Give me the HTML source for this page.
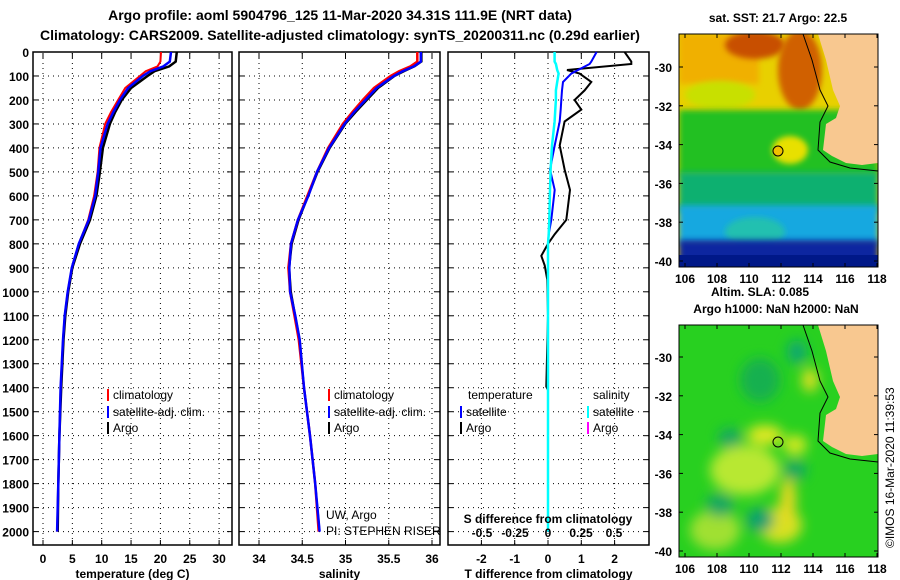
<!DOCTYPE html>
<html><head><meta charset="utf-8"><style>
body{margin:0;background:#fff;}
svg{display:block;font-family:"Liberation Sans",Arial,sans-serif;font-weight:bold;}
</style></head><body>
<svg id="c" width="900" height="580" viewBox="0 0 900 580">
<defs>
<filter id="bl" x="-50%" y="-50%" width="200%" height="200%"><feGaussianBlur stdDeviation="6"/></filter>
<filter id="bl2" x="-50%" y="-50%" width="200%" height="200%"><feGaussianBlur stdDeviation="3"/></filter>
<clipPath id="m1"><rect x="679" y="34" width="199" height="233"/></clipPath>
<clipPath id="m2"><rect x="679" y="325" width="199" height="232"/></clipPath>
</defs>
<text x="340" y="20" text-anchor="middle" font-size="14">Argo profile: aoml 5904796_125 11-Mar-2020 34.31S 111.9E (NRT data)</text>
<text x="340" y="40" text-anchor="middle" font-size="14">Climatology: CARS2009. Satellite-adjusted climatology: synTS_20200311.nc (0.29d earlier)</text>
<g id="plots"></g>
<!-- top map -->
<g clip-path="url(#m1)">
<rect x="679" y="34" width="199" height="233" fill="#e8d000"/>
<rect x="679" y="34" width="80" height="50" fill="#f0b000" filter="url(#bl2)"/>
<ellipse cx="755" cy="45" rx="30" ry="14" fill="#c85000" filter="url(#bl2)"/>
<ellipse cx="800" cy="70" rx="22" ry="40" fill="#d06000" filter="url(#bl2)"/>
<ellipse cx="720" cy="95" rx="35" ry="14" fill="#c8e000" filter="url(#bl2)"/>
<rect x="679" y="110" width="199" height="66" fill="#20c020" filter="url(#bl2)"/>
<ellipse cx="790" cy="150" rx="18" ry="14" fill="#e8e000" filter="url(#bl2)"/>
<rect x="679" y="172" width="199" height="40" fill="#10b070" filter="url(#bl2)"/>
<rect x="679" y="205" width="199" height="40" fill="#18a8e0" filter="url(#bl2)"/>
<ellipse cx="755" cy="232" rx="30" ry="15" fill="#20c0b0" filter="url(#bl2)"/>
<rect x="679" y="240" width="199" height="30" fill="#0828a0" filter="url(#bl2)"/>
<rect x="679" y="255" width="199" height="15" fill="#001888"/>
<polygon points="818,34 826,60 833,90 840,106 836,118 826,124 823,150 832,156 846,163 862,165 878,163 878,34" fill="#f8c890"/>
<polyline points="803,34 812,60 820,90 828,106 820,122 818,150 830,162 850,168 878,171" fill="none" stroke="#000" stroke-width="1"/>
<circle cx="778" cy="151" r="5" fill="#f0c000" stroke="#000"/>
</g>
<rect x="679" y="34" width="199" height="233" fill="none" stroke="#000"/>
<!-- bottom map -->
<g clip-path="url(#m2)">
<rect x="679" y="325" width="199" height="232" fill="#28d020"/>
<g filter="url(#bl)">
<ellipse cx="745" cy="470" rx="35" ry="25" fill="#b8e830"/>
<ellipse cx="765" cy="435" rx="18" ry="10" fill="#e0e820"/>
<ellipse cx="780" cy="525" rx="22" ry="18" fill="#d8e020"/>
<ellipse cx="788" cy="500" rx="8" ry="22" fill="#e8d820"/>
<ellipse cx="810" cy="380" rx="8" ry="12" fill="#e0e020"/>
<ellipse cx="715" cy="530" rx="25" ry="20" fill="#a0e030"/>
<ellipse cx="795" cy="445" rx="12" ry="10" fill="#d0e820"/>
<ellipse cx="797" cy="352" rx="10" ry="12" fill="#10a870"/>
<ellipse cx="760" cy="520" rx="14" ry="12" fill="#10a070"/>
<ellipse cx="720" cy="505" rx="14" ry="12" fill="#18a860"/>
<ellipse cx="730" cy="438" rx="12" ry="10" fill="#18a860"/>
<ellipse cx="795" cy="470" rx="12" ry="10" fill="#18a860"/>
<ellipse cx="760" cy="380" rx="20" ry="22" fill="#18b050"/>
</g>
<polygon points="818,325 826,351 833,381 840,397 836,409 826,415 823,441 832,447 846,454 862,456 878,454 878,325" fill="#f8c890"/>
<polyline points="803,325 812,351 820,381 828,397 820,413 818,441 830,453 850,459 878,462" fill="none" stroke="#000" stroke-width="1"/>
<circle cx="778" cy="442" r="5" fill="none" stroke="#000"/>
</g>
<rect x="679" y="325" width="199" height="232" fill="none" stroke="#000"/>
<text x="778" y="22" text-anchor="middle" font-size="12">sat. SST: 21.7 Argo: 22.5</text>
<text x="760" y="296" text-anchor="middle" font-size="12">Altim. SLA: 0.085</text>
<text x="776" y="313" text-anchor="middle" font-size="12">Argo h1000: NaN h2000: NaN</text>
<text transform="translate(894,548) rotate(-90)" font-size="12" font-weight="normal">©IMOS 16-Mar-2020 11:39:53</text>
<g id="maps"></g>
</svg>
<script>
// ---- data ----
const depths   = [0,40,60,80,100,150,200,250,300,400,500,600,700,800,900,1000,1100,1200,1400,1600,1800,2000];
const tempArgo = [22.8,22.6,21.5,19,17.8,15,13.4,12.3,11.4,10.2,9.7,9.1,8.0,6.3,5.0,4.3,3.8,3.5,3.1,2.8,2.6,2.5];
const tempClim = [20.1,20.0,19.5,17.5,16.5,14.0,12.8,11.6,10.6,9.6,9.3,8.7,7.7,6.1,4.9,4.2,3.7,3.4,3.0,2.8,2.6,2.4];
const tempSat  = [21.8,21.6,20.5,18.3,17.0,14.5,13.1,12.0,11.0,9.8,9.4,8.9,7.8,6.1,4.9,4.2,3.7,3.4,3.0,2.8,2.6,2.4];
const salArgo  = [35.88,35.88,35.80,35.68,35.57,35.38,35.25,35.12,35.0,34.82,34.68,34.57,34.46,34.38,34.35,34.37,34.42,34.47,34.52,34.59,34.65,34.70];
const salClim  = [35.83,35.83,35.75,35.62,35.52,35.33,35.2,35.08,34.97,34.8,34.67,34.56,34.45,34.37,34.34,34.36,34.41,34.46,34.52,34.59,34.65,34.69];
const salSat   = [35.87,35.87,35.79,35.66,35.56,35.36,35.23,35.1,34.99,34.81,34.67,34.57,34.45,34.37,34.35,34.36,34.42,34.47,34.52,34.59,34.65,34.70];
const dDepths  = [0,40,50,75,90,125,160,200,240,290,390,490,575,700,760,800,850,890,950,1100,1395,1410,1500,2000];
const dTArgo   = [2.3,2.5,2.5,0.57,0.95,1.3,1.1,0.8,1.0,0.5,0.35,0.5,0.66,0.55,0.2,0.0,-0.2,-0.1,-0.02,0,-0.05,0,0,0];
const dTSat    = [1.46,1.3,1.25,0.9,0.7,0.45,0.42,0.4,0.38,0.35,0.2,0.06,0.2,0.1,0.02,0,0,0,0,0,0,0,0,0];
const dSSat    = [0.05,0.05,0.06,0.07,0.08,0.07,0.06,0.06,0.055,0.05,0.03,0.02,0.015,0.01,0.005,0,0,0,0,0,0,0,0,0];
const depthTicks = [0,100,200,300,400,500,600,700,800,900,1000,1100,1200,1300,1400,1500,1600,1700,1800,1900,2000];
const tTicks = [0,5,10,15,20,25,30];
const sTicks = [34,34.5,35,35.5,36];
const sTickLabels = ["34","34.5","35","35.5","36"];
const dtTicks = [-2,-1,0,1,2];
const dsTicks = [-0.5,-0.25,0,0.25,0.5];
const dsTickLabels = ["-0.5","-0.25","0","0.25","0.5"];
const latTicks = [-30,-32,-34,-36,-38,-40];
const lonTicks = [106,108,110,112,114,116,118];

const NS='http://www.w3.org/2000/svg';
const root=document.getElementById('plots');
function mk(tag,attrs,parent){const e=document.createElementNS(NS,tag);for(const k in attrs)e.setAttribute(k,attrs[k]);(parent||root).appendChild(e);return e;}
const yD=d=>52+d*0.2398;
const PT=545;
const panels=[
 {x0:33,x1:232,fx:v=>43+v*5.87,ticks:tTicks,labels:tTicks.map(String),title:"temperature (deg C)",name:"temperature-panel"},
 {x0:239,x1:440,fx:v=>259+(v-34)*86.5,ticks:sTicks,labels:sTickLabels,title:"salinity",name:"salinity-panel"},
 {x0:448,x1:649,fx:v=>548+v*33.3,ticks:dtTicks,labels:dtTicks.map(String),title:"T difference from climatology",name:"difference-panel"}
];
panels.forEach((p,i)=>{
 const g=mk('g',{});
 
 
 depthTicks.forEach(d=>{ if(d>0) mk('line',{x1:p.x0,x2:p.x1,y1:yD(d),y2:yD(d),stroke:'#000','stroke-width':1,'stroke-dasharray':'1,4'},g);
   mk('line',{x1:p.x0,x2:p.x0+5,y1:yD(d),y2:yD(d),stroke:'#000'},g); mk('line',{x1:p.x1-5,x2:p.x1,y1:yD(d),y2:yD(d),stroke:'#000'},g);});
 p.ticks.forEach((t,j)=>{const x=p.fx(t);
   mk('line',{x1:x,x2:x,y1:53,y2:PT,stroke:'#000','stroke-dasharray':'1,4'},g);
   mk('line',{x1:x,x2:x,y1:53,y2:58,stroke:'#000'},g); mk('line',{x1:x,x2:x,y1:PT-5,y2:PT,stroke:'#000'},g);
   const tx=mk('text',{x:x,y:563,'text-anchor':'middle','font-size':12},g);tx.textContent=p.labels[j];
   
   });
 mk('rect',{x:p.x0,y:52,width:p.x1-p.x0,height:PT-52,fill:'none',stroke:'#000','stroke-width':1.5},g);
 const at=mk('text',{x:(p.x0+p.x1)/2,y:578,'text-anchor':'middle','font-size':12},g);at.textContent=p.title;
 
 
});
depthTicks.forEach(d=>{const t=mk('text',{x:29,y:yD(d)+5,'text-anchor':'end','font-size':12});t.textContent=d;
 
 });
function line(xs,ys,fx,color,w,name){
 const pts=xs.map((v,i)=>fx(v).toFixed(1)+','+yD(ys[i]).toFixed(1)).join(' ');
 const l=mk('polyline',{points:pts,fill:'none',stroke:color,'stroke-width':w});
 
 
}
const P=panels;
line(tempArgo,depths,P[0].fx,'#000',2.5,'temp-argo-line');
line(tempClim,depths,P[0].fx,'#f00',2,'temp-clim-line');
line(tempSat,depths,P[0].fx,'#00f',2.5,'temp-sat-line');
line(salArgo,depths,P[1].fx,'#000',2,'sal-argo-line');
line(salClim,depths,P[1].fx,'#f00',2.5,'sal-clim-line');
line(salSat,depths,P[1].fx,'#00f',2.5,'sal-sat-line');
const fxS=v=>548+v*132;
line(dTArgo,dDepths,P[2].fx,'#000',2,'tdiff-argo-line');
line(dTSat,dDepths,P[2].fx,'#00f',2,'tdiff-sat-line');
line(dSSat,dDepths,fxS,'#0ff',2.5,'sdiff-sat-line');
dsTicks.forEach((t,j)=>{const tx=mk('text',{x:fxS(t),y:537,'text-anchor':'middle','font-size':12});tx.textContent=dsTickLabels[j];
 
 });
const st=mk('text',{x:548,y:523,'text-anchor':'middle','font-size':12});st.textContent='S difference from climatology';


function leg(x,y,color,label,name){mk('rect',{x:x,y:y-10,width:2,height:12,fill:color});
 const t=mk('text',{x:x+6,y:y,'font-size':12,'font-weight':'normal'});t.textContent=label;
 
 }
leg(107,399,'#f00','climatology','legend-climatology');
leg(107,416,'#00f','satellite-adj. clim.','legend-satellite');
leg(107,432,'#000','Argo','legend-argo');
leg(328,399,'#f00','climatology','legend-climatology-2');
leg(328,416,'#00f','satellite-adj. clim.','legend-satellite-2');
leg(328,432,'#000','Argo','legend-argo-2');
const th=mk('text',{x:468,y:399,'font-size':12,'font-weight':'normal'});th.textContent='temperature';


const sh=mk('text',{x:593,y:399,'font-size':12,'font-weight':'normal'});sh.textContent='salinity';


leg(460,416,'#00f','satellite','legend-t-satellite');
leg(460,432,'#000','Argo','legend-t-argo');
leg(587,416,'#0ff','satellite','legend-s-satellite');
leg(587,432,'#f0f','Argo','legend-s-argo');
const c1=mk('text',{x:326,y:519,'font-size':12,'font-weight':'normal'});c1.textContent='UW, Argo';


const c2=mk('text',{x:326,y:535,'font-size':12,'font-weight':'normal'});c2.textContent='PI: STEPHEN RISER';


const mg=document.getElementById('maps');
[[34,267,67],[325,557,357]].forEach(([top,bot,lat30],k)=>{
 latTicks.forEach(l=>{const y=lat30+(-30-l)*19.4;
  mk('line',{x1:679,x2:683,y1:y,y2:y,stroke:'#000'},mg);mk('line',{x1:874,x2:878,y1:y,y2:y,stroke:'#000'},mg);
  const t=mk('text',{x:672,y:y+5,'text-anchor':'end','font-size':12},mg);t.textContent=l;
  
  });
 lonTicks.forEach(l=>{const x=685+(l-106)*16;
  mk('line',{x1:x,x2:x,y1:top,y2:top+4,stroke:'#000'},mg);mk('line',{x1:x,x2:x,y1:bot-4,y2:bot,stroke:'#000'},mg);
  const t=mk('text',{x:x,y:bot+16,'text-anchor':'middle','font-size':12},mg);t.textContent=l;
  
  });
});
</script>
</body></html>
